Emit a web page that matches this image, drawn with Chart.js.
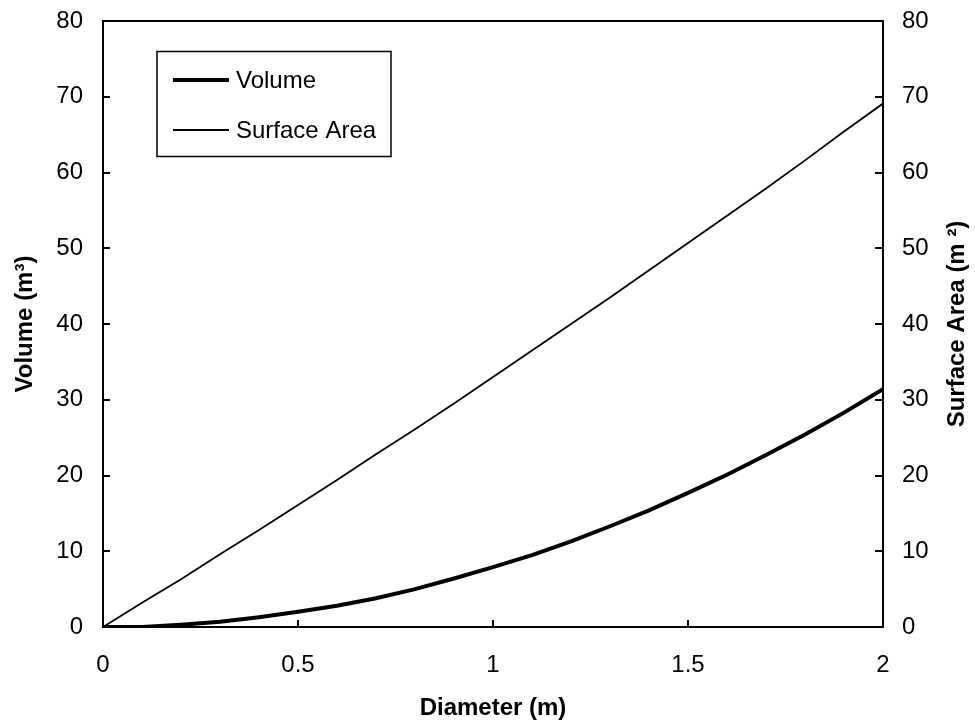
<!DOCTYPE html>
<html>
<head>
<script src="https://cdn.jsdelivr.net/npm/chart.js@4/dist/chart.umd.min.js"></script>
<style>
  html, body { margin: 0; padding: 0; background: #fff; }
  #myChart { display: block; }
</style>
</head>
<body>
<canvas id="myChart" width="975" height="723"></canvas>
<script>
// values, every 0.1 m of diameter
var diameters = [0, 0.1, 0.2, 0.3, 0.4, 0.5, 0.6, 0.7, 0.8, 0.9, 1.0,
                 1.1, 1.2, 1.3, 1.4, 1.5, 1.6, 1.7, 1.8, 1.9, 2.0];
var volume = [0, 0, 0.3, 0.7, 1.3, 2.0, 2.8, 3.8, 5.0, 6.4, 7.9,
              9.5, 11.3, 13.3, 15.4, 17.7, 20.1, 22.7, 25.4, 28.3, 31.4];
var surfaceArea = [0, 3.2, 6.3, 9.6, 12.8, 16.1, 19.4, 22.8, 26.1, 29.5, 33.0,
                   36.5, 40.0, 43.5, 47.1, 50.7, 54.3, 57.9, 61.6, 65.4, 69.1];

var xTicks = [0, 0.5, 1, 1.5, 2];
var yTicks = [0, 10, 20, 30, 40, 50, 60, 70, 80];

var FONT = '"Liberation Sans", Arial, sans-serif';

function points(ys) {
    var out = [];
    for (var i = 0; i < diameters.length; i++) {
        out.push({ x: diameters[i], y: ys[i] });
    }
    return out;
}

function useTicks(list) {
    return function (scale) {
        scale.ticks = list.map(function (v) { return { value: v }; });
    };
}

// fixed box sizes so the plot area lands where the reference has it
function fitWidth(w) {
    return function (s) { s.width = w; s.paddingTop = 0; s.paddingBottom = 0; };
}

// frame, inward tick marks, legend box and right title
var extras = {
    id: 'extras',
    afterDraw: function (chart) {
        var ctx = chart.ctx;
        var a = chart.chartArea;
        var sx = chart.scales.x, sy = chart.scales.y, sy1 = chart.scales.y1;
        ctx.save();
        ctx.strokeStyle = '#000';
        ctx.lineWidth = 2;
        ctx.strokeRect(a.left, a.top, a.right - a.left, a.bottom - a.top);

        ctx.beginPath();
        yTicks.forEach(function (v) {
            var p = Math.round(sy.getPixelForValue(v));
            ctx.moveTo(a.left, p); ctx.lineTo(a.left + 7, p);
            var q = Math.round(sy1.getPixelForValue(v));
            ctx.moveTo(a.right, q); ctx.lineTo(a.right - 8, q);
        });
        xTicks.forEach(function (v) {
            var p = Math.round(sx.getPixelForValue(v));
            ctx.moveTo(p, a.bottom); ctx.lineTo(p, a.bottom - 7);
        });
        ctx.stroke();

        // legend
        ctx.lineWidth = 1.5;
        ctx.strokeRect(157, 51.5, 234, 105);
        ctx.font = '24px ' + FONT;
        ctx.fillStyle = '#000';
        ctx.textBaseline = 'middle';
        ctx.textAlign = 'left';
        var rows = [80, 130];
        chart.data.datasets.forEach(function (ds, i) {
            ctx.lineWidth = ds.borderWidth;
            ctx.beginPath();
            ctx.moveTo(173, rows[i]); ctx.lineTo(229, rows[i]);
            ctx.stroke();
            ctx.fillText(ds.label, 236, rows[i] + 1);
        });

        // right axis title, reads bottom to top like the left one
        ctx.save();
        ctx.translate(957, (a.top + a.bottom) / 2);
        ctx.rotate(-Math.PI / 2);
        ctx.font = 'bold 24px ' + FONT;
        ctx.textAlign = 'center';
        ctx.textBaseline = 'middle';
        ctx.fillText('Surface Area (m \u00B2)', 0, 0);
        ctx.restore();

        ctx.restore();
    }
};

var ctx = document.getElementById('myChart').getContext('2d');
var chart = new Chart(ctx, {
    type: 'line',
    data: {
        datasets: [{
            label: 'Volume',
            data: points(volume),
            yAxisID: 'y',
            borderColor: '#000',
            borderWidth: 4,
            pointRadius: 0,
            tension: 0
        }, {
            label: 'Surface Area',
            data: points(surfaceArea),
            yAxisID: 'y1',
            borderColor: '#000',
            borderWidth: 1.8,
            pointRadius: 0,
            tension: 0
        }]
    },
    options: {
        responsive: false,
        animation: false,
        devicePixelRatio: 1,
        layout: { padding: { top: 21, left: 0, right: 0, bottom: 0 } },
        plugins: {
            legend: { display: false },
            tooltip: { enabled: false }
        },
        scales: {
            x: {
                type: 'linear',
                min: 0, max: 2,
                afterBuildTicks: useTicks(xTicks),
                afterFit: function (s) { s.height = 96; s.paddingLeft = 0; s.paddingRight = 0; },
                grid: { display: false, drawTicks: false },
                border: { display: false },
                ticks: {
                    color: '#000', padding: 24, font: { family: FONT, size: 24 },
                    callback: function (v) { return String(v); }
                },
                title: {
                    display: true, text: 'Diameter (m)', color: '#000',
                    padding: { top: 13, bottom: 0 },
                    font: { family: FONT, size: 24, weight: 'bold' }
                }
            },
            y: {
                position: 'left',
                min: 0, max: 80,
                afterBuildTicks: useTicks(yTicks),
                afterFit: fitWidth(103),
                grid: { display: false, drawTicks: false },
                border: { display: false },
                ticks: { color: '#000', padding: 20, font: { family: FONT, size: 24 } },
                title: {
                    display: true, text: 'Volume (m\u00B3)', color: '#000',
                    padding: { top: 11, bottom: 0 },
                    font: { family: FONT, size: 24, weight: 'bold' }
                }
            },
            y1: {
                position: 'right',
                min: 0, max: 80,
                afterBuildTicks: useTicks(yTicks),
                afterFit: fitWidth(92),
                grid: { display: false, drawTicks: false },
                border: { display: false },
                ticks: { color: '#000', padding: 19, font: { family: FONT, size: 24 } }
            }
        }
    },
    plugins: [extras]
});
</script>
</body>
</html>
